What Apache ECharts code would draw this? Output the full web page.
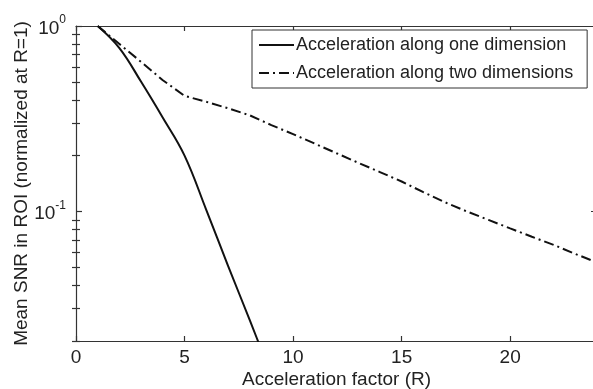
<!DOCTYPE html>
<html>
<head>
<meta charset="utf-8">
<script src="https://cdn.jsdelivr.net/npm/echarts@6/dist/echarts.min.js"></script>
<style>
  html, body { margin: 0; padding: 0; background: #fff; }
  #chart { width: 593px; height: 389px; }
</style>
</head>
<body>
<div id="chart"></div>
<script>
// Acceleration factors and normalized mean SNR in the ROI
const rOneDim = [1, 2, 3, 4, 5, 6, 7, 8, 9];
const snrOneDim = [1.0, 0.76, 0.50, 0.32, 0.20, 0.102, 0.051, 0.026, 0.013];

const rTwoDim = [1, 2, 3, 4, 5, 6, 7, 8, 9, 10, 11, 12, 13, 14, 15, 16, 17, 18, 19, 20, 21, 22, 23, 24];
const snrTwoDim = [1.0, 0.80, 0.64, 0.51, 0.42, 0.39, 0.36, 0.33, 0.292, 0.261, 0.232, 0.206,
                   0.183, 0.163, 0.145, 0.127, 0.112, 0.100, 0.090, 0.081, 0.073, 0.066, 0.059, 0.053];

const seriesNames = ['Acceleration along one dimension', 'Acceleration along two dimensions'];

// Log-axis tick positions: decades carry labels, the rest are minor ticks
const majorTicks = [0.1, 1];
const minorTicks = [0.02, 0.03, 0.04, 0.05, 0.06, 0.07, 0.08, 0.09,
                    0.2, 0.3, 0.4, 0.5, 0.6, 0.7, 0.8, 0.9];
const decadeLabels = { '0.1': '-1', '1': '0' };

const FONT = '"Liberation Sans", Arial, Helvetica, sans-serif';
const FONT_SIZE = 19;
const AXIS_COLOR = '#333';
const TEXT_COLOR = '#222';

const pairs = (xs, ys) => xs.map((x, i) => [x, ys[i]]);

const chart = echarts.init(document.getElementById('chart'), null, { renderer: 'canvas' });

const logAxisBase = {
  type: 'log',
  logBase: 10,
  min: 0.02,
  max: 1,
  gridIndex: 0,
  splitLine: { show: false },
  minorTick: { show: false },
  minorSplitLine: { show: false }
};

const tickStyle = { color: AXIS_COLOR, width: 1.2 };

// extra log axes that only carry tick marks
const tickOnlyAxis = (position, values, length) => Object.assign({}, logAxisBase, {
  position: position,
  axisLine: { show: false },
  axisTick: { show: true, inside: true, length: length, customValues: values, lineStyle: tickStyle },
  axisLabel: { show: false }
});

chart.setOption({
  animation: false,
  backgroundColor: '#fff',
  textStyle: { fontFamily: FONT },
  // the plot box runs slightly past the right edge of the canvas
  grid: { left: 76, top: 26, width: 521, height: 315, containLabel: false, outerBoundsMode: 'none' },
  legend: {
    data: seriesNames,
    orient: 'vertical',
    left: 252,
    top: 30,
    itemWidth: 35,
    itemHeight: 14,
    itemGap: 6,
    padding: [4, 14, 4, 6],
    borderColor: AXIS_COLOR,
    borderWidth: 1,
    backgroundColor: '#fff',
    itemStyle: { opacity: 0 },
    textStyle: { fontFamily: FONT, fontSize: 18, color: TEXT_COLOR, lineHeight: 22, padding: [0, 0, 0, -3] }
  },
  xAxis: [
    {
      type: 'value',
      min: 0,
      max: 24,
      interval: 5,
      name: 'Acceleration factor (R)',
      nameLocation: 'middle',
      nameGap: 29,
      nameMoveOverlap: false,
      nameTextStyle: { fontFamily: FONT, fontSize: FONT_SIZE, color: TEXT_COLOR },
      axisLine: { show: true, onZero: false, lineStyle: tickStyle },
      axisTick: { show: true, inside: true, length: 5, lineStyle: tickStyle },
      axisLabel: { fontFamily: FONT, fontSize: FONT_SIZE, color: TEXT_COLOR, margin: 7, showMaxLabel: false },
      splitLine: { show: false }
    },
    {
      type: 'value',
      position: 'top',
      min: 0,
      max: 24,
      interval: 5,
      axisLine: { show: true, onZero: false, lineStyle: tickStyle },
      axisTick: { show: true, inside: true, length: 5, lineStyle: tickStyle },
      axisLabel: { show: false },
      splitLine: { show: false }
    }
  ],
  yAxis: [
    Object.assign({}, logAxisBase, {
      position: 'left',
      name: 'Mean SNR in ROI (normalized at R=1)',
      nameLocation: 'middle',
      nameGap: 45,
      nameRotate: 90,
      nameMoveOverlap: false,
      nameTextStyle: { fontFamily: FONT, fontSize: FONT_SIZE, color: TEXT_COLOR },
      axisLine: { show: true, onZero: false, lineStyle: tickStyle },
      axisTick: { show: true, inside: true, length: 6, customValues: majorTicks, lineStyle: tickStyle },
      axisLabel: {
        customValues: majorTicks,
        margin: 10,
        fontFamily: FONT,
        color: TEXT_COLOR,
        formatter: v => {
          const key = String(+v.toPrecision(6));
          return decadeLabels[key] !== undefined ? '{b|10}{s|' + decadeLabels[key] + '}' : '';
        },
        rich: {
          b: { fontFamily: FONT, fontSize: FONT_SIZE, color: TEXT_COLOR, lineHeight: 24, verticalAlign: 'bottom' },
          s: { fontFamily: FONT, fontSize: 12, color: TEXT_COLOR, lineHeight: 24, verticalAlign: 'top' }
        }
      }
    }),
    tickOnlyAxis('left', minorTicks, 4),
    Object.assign({}, logAxisBase, {
      position: 'right',
      axisLine: { show: true, onZero: false, lineStyle: tickStyle },
      axisTick: { show: true, inside: true, length: 6, customValues: majorTicks, lineStyle: tickStyle },
      axisLabel: { show: false }
    }),
    tickOnlyAxis('right', minorTicks, 4)
  ],
  series: [
    {
      name: seriesNames[0],
      type: 'line',
      xAxisIndex: 0,
      yAxisIndex: 0,
      data: pairs(rOneDim, snrOneDim),
      symbol: 'none',
      smooth: 0.4,
      clip: true,
      lineStyle: { color: '#111', width: 2 },
      itemStyle: { color: '#111' }
    },
    {
      name: seriesNames[1],
      type: 'line',
      xAxisIndex: 0,
      yAxisIndex: 0,
      data: pairs(rTwoDim, snrTwoDim),
      symbol: 'none',
      clip: true,
      lineStyle: { color: '#111', width: 2, type: [10, 4, 2, 4] },
      itemStyle: { color: '#111' }
    }
  ]
});
</script>
</body>
</html>
